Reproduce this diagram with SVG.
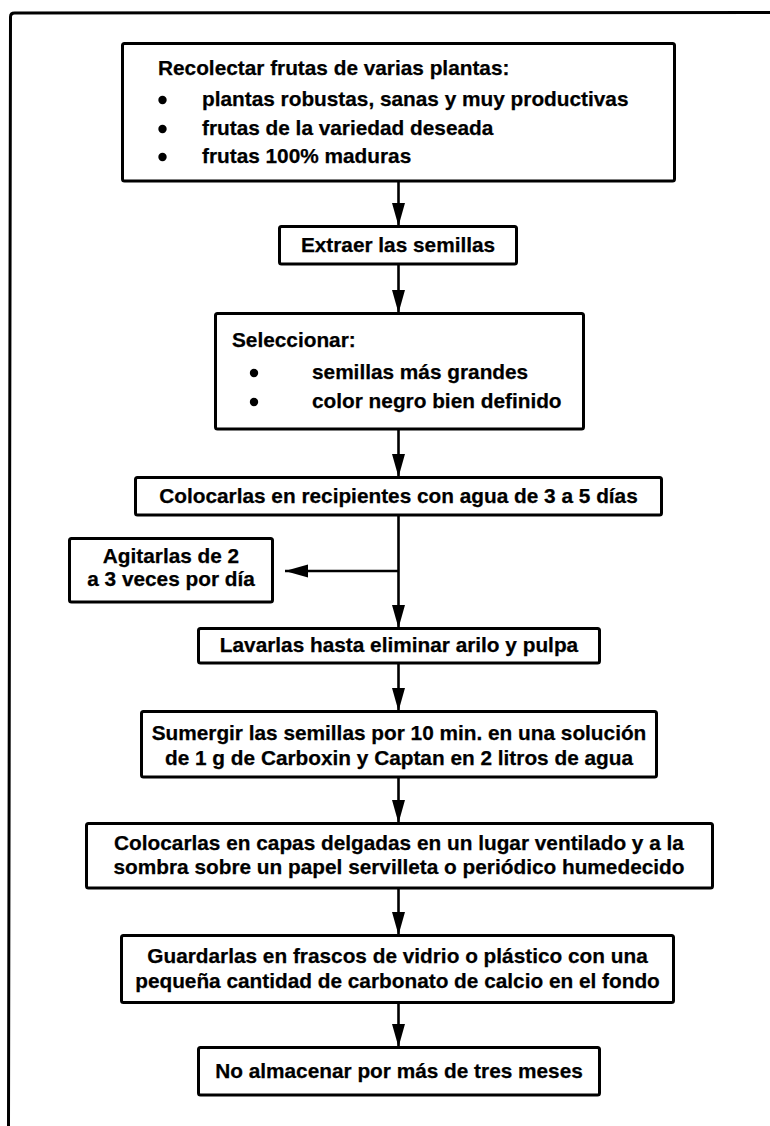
<svg xmlns="http://www.w3.org/2000/svg" width="770" height="1126" viewBox="0 0 770 1126">
<style>
.box{fill:#fff;stroke:#000;stroke-width:3}
.t{font-family:"Liberation Sans",Arial,Helvetica,sans-serif;font-weight:bold;font-size:20.8px;fill:#000;stroke:#000;stroke-width:0.25}
.c{text-anchor:middle}
.con{stroke:#000;stroke-width:2.6;fill:none}
</style>
<defs>
<marker id="ah" markerUnits="userSpaceOnUse" markerWidth="24" markerHeight="14" refX="23" refY="6.5" orient="auto">
<path d="M0,0 L23,6.5 L0,13 z" fill="#000"/>
</marker>
</defs>
<rect width="770" height="1126" fill="#fff"/>
<path d="M8.5,1126 L10.5,17 Q10.5,13 14.5,13 L770,12.5" fill="none" stroke="#000" stroke-width="3"/>
<g id="connectors">
<line class="con" x1="398.5" y1="181" x2="398.5" y2="226" marker-end="url(#ah)"/>
<line class="con" x1="398.5" y1="264" x2="398.5" y2="313" marker-end="url(#ah)"/>
<line class="con" x1="398.5" y1="429" x2="398.5" y2="477" marker-end="url(#ah)"/>
<line class="con" x1="398.5" y1="515" x2="398.5" y2="628" marker-end="url(#ah)"/>
<line class="con" x1="398.5" y1="571" x2="285" y2="571" marker-end="url(#ah)"/>
<line class="con" x1="398.5" y1="663" x2="398.5" y2="711" marker-end="url(#ah)"/>
<line class="con" x1="398.5" y1="777" x2="398.5" y2="823" marker-end="url(#ah)"/>
<line class="con" x1="398.5" y1="888" x2="398.5" y2="935" marker-end="url(#ah)"/>
<line class="con" x1="398.5" y1="1002" x2="398.5" y2="1047" marker-end="url(#ah)"/>
</g>
<g id="n1">
<rect class="box" x="122.5" y="43.5" width="552" height="137.5" rx="2"/>
<text class="t" x="158" y="75">Recolectar frutas de varias plantas:</text>
<circle cx="162.5" cy="100" r="4.2"/>
<circle cx="162.5" cy="129" r="4.2"/>
<circle cx="162.5" cy="157" r="4.2"/>
<text class="t" x="202" y="106">plantas robustas, sanas y muy productivas</text>
<text class="t" x="202" y="135">frutas de la variedad deseada</text>
<text class="t" x="202" y="163">frutas 100% maduras</text>
</g>
<g id="n2">
<rect class="box" x="279.5" y="226.5" width="237" height="37.5" rx="2"/>
<text class="t c" x="398" y="252">Extraer las semillas</text>
</g>
<g id="n3">
<rect class="box" x="215.5" y="313.5" width="368" height="115.5" rx="2"/>
<text class="t" x="232" y="347">Seleccionar:</text>
<circle cx="254" cy="373" r="4.2"/>
<circle cx="254" cy="402" r="4.2"/>
<text class="t" x="312" y="379">semillas más grandes</text>
<text class="t" x="312" y="408">color negro bien definido</text>
</g>
<g id="n4">
<rect class="box" x="135.5" y="477.5" width="526" height="37.5" rx="2"/>
<text class="t c" x="398.5" y="503">Colocarlas en recipientes con agua de 3 a 5 días</text>
</g>
<g id="n5">
<rect class="box" x="69.5" y="538.5" width="203" height="63.5" rx="2"/>
<text class="t c" x="171" y="563">Agitarlas de 2</text>
<text class="t c" x="171" y="586">a 3 veces por día</text>
</g>
<g id="n6">
<rect class="box" x="198.5" y="628.5" width="401" height="34.5" rx="2"/>
<text class="t c" x="399" y="652">Lavarlas hasta eliminar arilo y pulpa</text>
</g>
<g id="n7">
<rect class="box" x="141.5" y="711.5" width="515" height="65.5" rx="2"/>
<text class="t c" x="399" y="740">Sumergir las semillas por 10 min. en una solución</text>
<text class="t c" x="399" y="765">de 1 g de Carboxin y Captan en 2 litros de agua</text>
</g>
<g id="n8">
<rect class="box" x="86.5" y="823.5" width="626" height="64.5" rx="2"/>
<text class="t c" x="399" y="850">Colocarlas en capas delgadas en un lugar ventilado y a la</text>
<text class="t c" x="399" y="874">sombra sobre un papel servilleta o periódico humedecido</text>
</g>
<g id="n9">
<rect class="box" x="121.5" y="935.5" width="552" height="67" rx="2"/>
<text class="t c" x="397.5" y="963">Guardarlas en frascos de vidrio o plástico con una</text>
<text class="t c" x="397.5" y="988">pequeña cantidad de carbonato de calcio en el fondo</text>
</g>
<g id="n10">
<rect class="box" x="198.5" y="1047.5" width="401" height="47.5" rx="2"/>
<text class="t c" x="399" y="1078">No almacenar por más de tres meses</text>
</g>
</svg>
